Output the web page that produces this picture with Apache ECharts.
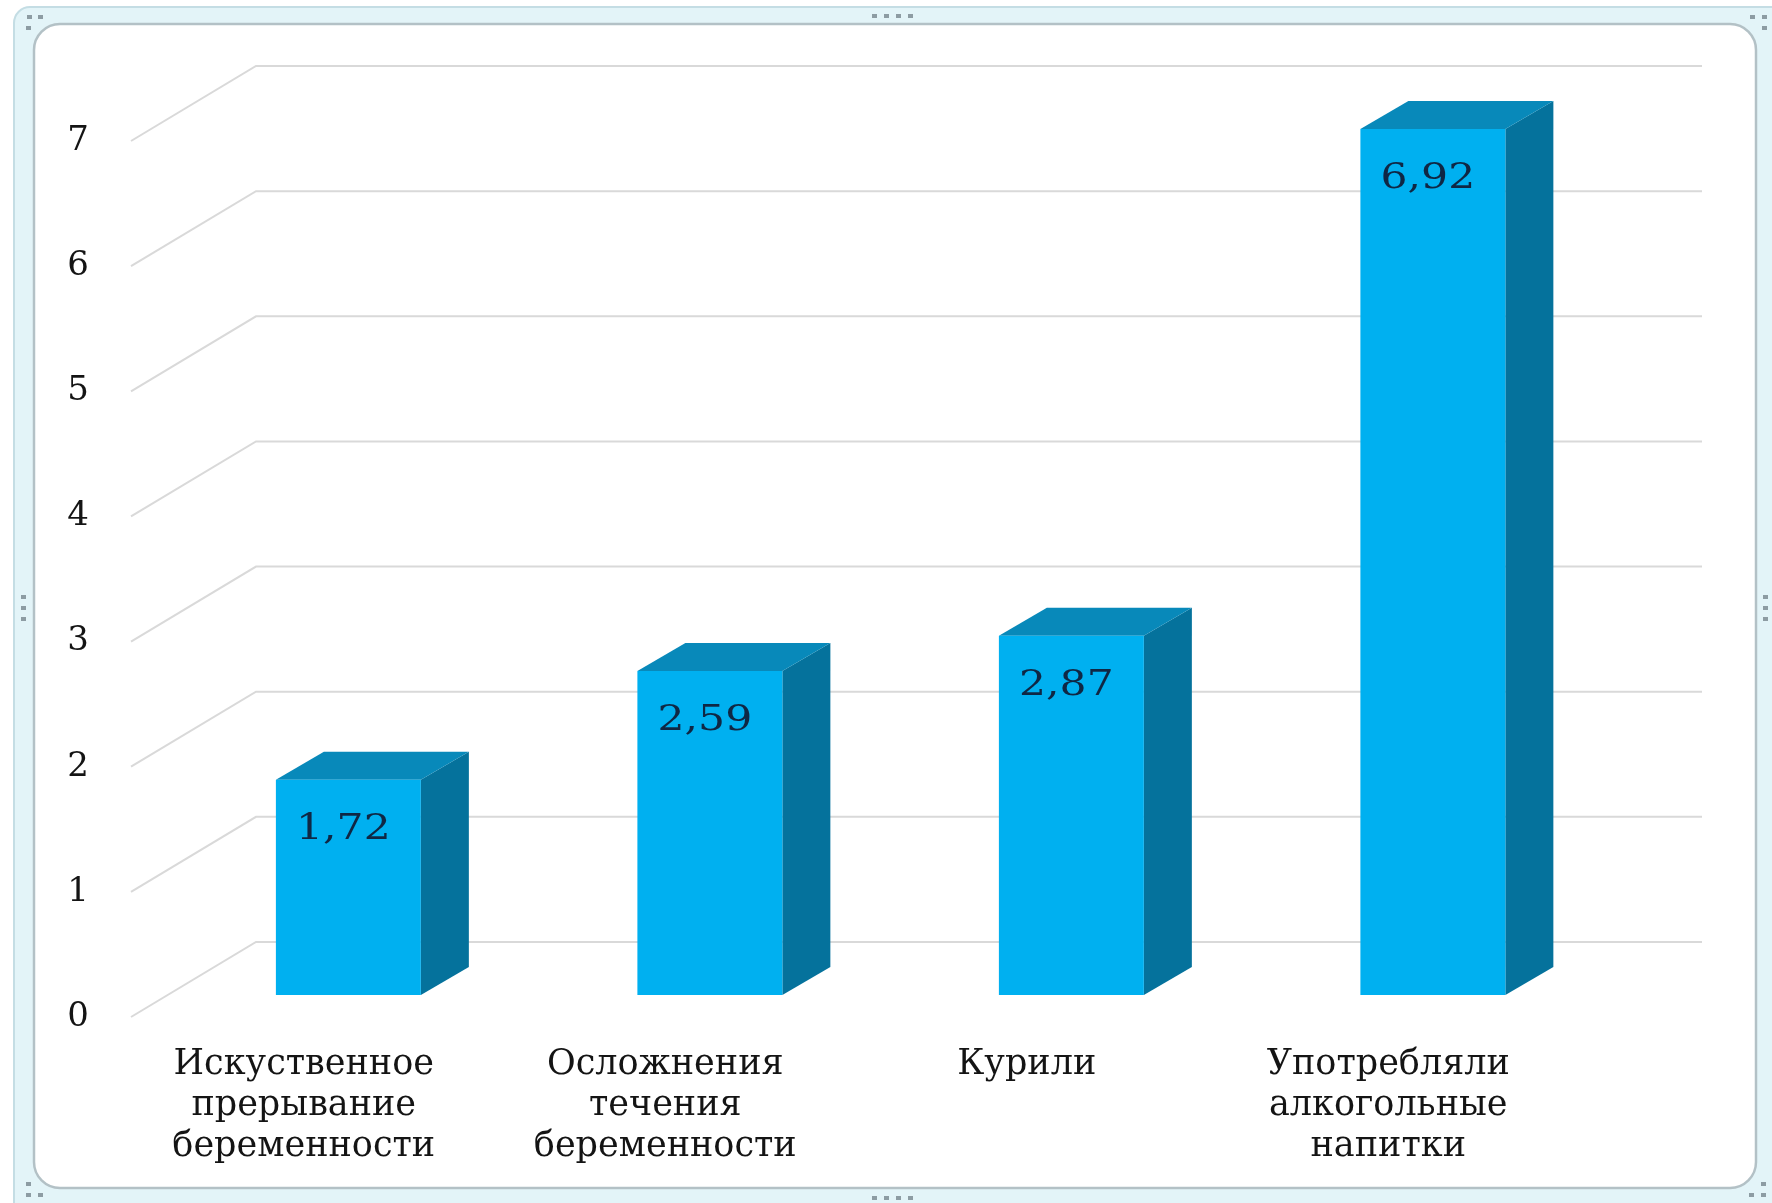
<!DOCTYPE html>
<html>
<head>
<meta charset="utf-8">
<script src="https://cdn.jsdelivr.net/npm/echarts@6/dist/echarts.min.js"></script>
<style>
html,body{margin:0;padding:0;background:#fff;}
#chart{width:1772px;height:1203px;}
</style>
</head>
<body>
<div id="chart"></div>
<script>
// ---- data ----
const categories = [
  'Искуственное\nпрерывание\nбеременности',
  'Осложнения\nтечения\nбеременности',
  'Курили',
  'Употребляли\nалкогольные\nнапитки'
];
const values = [1.72, 2.59, 2.87, 6.92];
const yTicks = [0, 1, 2, 3, 4, 5, 6, 7];

// ---- 3D look (pixels) ----
const DEPTH_X = 125, DEPTH_Y = -75;      // floor depth vector (front -> back wall)
const BAR_FRONT = 0.293;                 // bar front plane as fraction of depth
const BAR_DX = 48, BAR_DY = -28;         // bar thickness in depth
const BAR_W_RATIO = 0.401;               // front face width / category band

const chart = echarts.init(document.getElementById('chart'), null, {renderer: 'canvas'});

function fmt(v) { return v.toFixed(2).replace('.', ','); }

const dots = [
  [27,15],[38,15],[26,26],
  [872,14],[884,14],[896,14],[908,14],
  [1750,15],[1762,15],[1762,26],
  [21,595],[21,606],[21,617],
  [1763,595],[1763,606],[1763,617],
  [26,1182],[26,1193],[38,1193],
  [872,1196],[884,1196],[896,1196],[908,1196],
  [1761,1182],[1749,1193],[1761,1193]
];

const option = {
  backgroundColor: '#ffffff',
  animation: false,
  graphic: [
    {type: 'rect', z: -10, shape: {x: 14, y: 7, width: 1790, height: 1230, r: 16},
     style: {fill: '#e3f4f8', stroke: '#c4dde4', lineWidth: 2}},
    {type: 'rect', z: -9, shape: {x: 34, y: 24, width: 1722, height: 1164, r: 26},
     style: {fill: '#ffffff', stroke: '#b3c1c6', lineWidth: 2.5}}
  ].concat(dots.map(d => ({
    type: 'rect', z: -8, shape: {x: d[0], y: d[1], width: 5, height: 4},
    style: {fill: '#8d9ca3'}
  }))),
  grid: {left: 131, width: 1446, top: 141, bottom: 186, containLabel: false},
  xAxis: {
    type: 'category',
    data: categories,
    axisLine: {show: false},
    axisTick: {show: false},
    splitLine: {show: false},
    axisLabel: {
      interval: 0,
      margin: 27,
      padding: [0, 16, 0, 0],
      fontFamily: 'DejaVu Serif',
      fontSize: 35,
      lineHeight: 41,
      color: '#141414'
    }
  },
  yAxis: {
    type: 'value',
    min: 0, max: 7, interval: 1,
    axisLine: {show: false},
    axisTick: {show: false},
    splitLine: {show: false},
    axisLabel: {
      margin: 42,
      fontFamily: 'DejaVu Serif',
      fontSize: 34,
      color: '#141414'
    }
  },
  series: [
    {
      name: 'grid',
      type: 'custom',
      z: 1,
      silent: true,
      data: yTicks.map(t => [0, t]),
      renderItem: function (params, api) {
        const cs = params.coordSys;
        const p = api.coord([0, api.value(1)]);
        const x0 = cs.x, y0 = p[1];
        return {
          type: 'polyline',
          shape: {points: [
            [x0, y0],
            [x0 + DEPTH_X, y0 + DEPTH_Y],
            [x0 + cs.width + DEPTH_X, y0 + DEPTH_Y]
          ]},
          style: {stroke: '#d9d9d9', lineWidth: 2, fill: null}
        };
      }
    },
    {
      name: 'bars',
      type: 'custom',
      z: 3,
      data: values.map((v, i) => [i, v]),
      renderItem: function (params, api) {
        const i = api.value(0), v = api.value(1);
        const base = api.coord([i, 0]);
        const top = api.coord([i, v]);
        const band = api.size([1, 0])[0];
        const w = band * BAR_W_RATIO;
        const ox = DEPTH_X * BAR_FRONT, oy = DEPTH_Y * BAR_FRONT;
        const cx = base[0] + ox;
        const x0 = cx - w / 2, x1 = cx + w / 2;
        const yb = base[1] + oy, yt = top[1] + oy;
        return {
          type: 'group',
          children: [
            {type: 'polygon', shape: {points: [[x1, yt], [x1 + BAR_DX, yt + BAR_DY], [x1 + BAR_DX, yb + BAR_DY], [x1, yb]]},
             style: {fill: '#05729c'}},
            {type: 'polygon', shape: {points: [[x0, yt], [x1, yt], [x1 + BAR_DX, yt + BAR_DY], [x0 + BAR_DX, yt + BAR_DY]]},
             style: {fill: '#0889ba'}},
            {type: 'rect', shape: {x: x0, y: yt, width: w, height: yb - yt},
             style: {fill: '#00b0f0'}},
            {type: 'text', x: cx - 5, y: yt + 50, scaleX: 1.18,
             style: {text: fmt(v), fill: '#0f2744', font: '36px "DejaVu Serif"',
                     align: 'center', verticalAlign: 'middle'}}
          ]
        };
      }
    }
  ]
};
chart.setOption(option);
</script>
</body>
</html>
